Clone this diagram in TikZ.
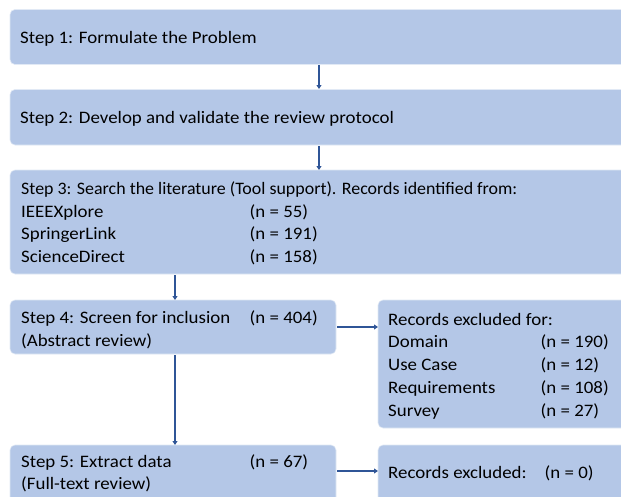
\documentclass[tikz,border=0pt]{standalone}
\usepackage{fontspec}
\setmainfont{Carlito}
\usetikzlibrary{arrows.meta}
\definecolor{boxfill}{HTML}{B4C7E7}
\definecolor{arrowblue}{HTML}{2F5597}
\newcommand{\stretchtxt}[1]{\scalebox{1.08}[1]{#1}}
\newcommand{\stretchtxtb}[1]{\scalebox{1.025}[1]{#1}}
\begin{document}
\begin{tikzpicture}[x=1pt,y=-1pt,
  boxstyle/.style={fill=boxfill,draw=white!60!boxfill,line width=0.6pt,rounded corners=5pt},
  txt/.style={anchor=base west,inner sep=0pt,font=\fontsize{17.5}{21}\selectfont},
  arr/.style={draw=arrowblue,line width=1.5pt,-{Triangle[length=4pt,width=5pt]}}]
\useasboundingbox (0,0) rectangle (621,496);
\begin{scope}
\clip (0,0) rectangle (621,496);
% boxes
\path[boxstyle] (10,9.5) rectangle (640,64.5);
\path[boxstyle] (10,89.5) rectangle (640,145);
\path[boxstyle] (10,170) rectangle (640,274);
\path[boxstyle] (10,300) rectangle (336,354);
\path[boxstyle] (10,445) rectangle (336,520);
\path[boxstyle] (378,300) rectangle (640,428);
\path[boxstyle] (378,445) rectangle (640,520);
\end{scope}
% anchor coordinates
\coordinate (b1s) at (319,65);  \coordinate (b2n) at (319,89);
\coordinate (b2s) at (319,146); \coordinate (b3n) at (319,170);
\coordinate (b3s) at (175,275); \coordinate (b4n) at (175,300);
\coordinate (b4s) at (175,355); \coordinate (b5n) at (175,445);
\coordinate (b4e) at (337,327); \coordinate (rAw) at (378,327);
\coordinate (b5e) at (337,471); \coordinate (rBw) at (378,471);
\draw[arr] (b1s) -- (b2n);
\draw[arr] (b2s) -- (b3n);
\draw[arr] (b3s) -- (b4n);
\draw[arr] (b4s) -- (b5n);
\draw[arr] (b4e) -- (rAw);
\draw[arr] (b5e) -- (rBw);
% texts
\node[txt] (t1) at (20,43) {\stretchtxt{Step 1: Formulate the Problem}};
\node[txt] (t2) at (20,123) {\stretchtxt{Step 2: Develop and validate the review protocol}};
\node[txt] (t3) at (21,194) {\stretchtxtb{Step 3: Search the literature (Tool support). Records identified from:}};
\node[txt] (t3a) at (21,217) {\stretchtxt{IEEEXplore}};
\node[txt] (t3an) at (249.5,217) {\stretchtxt{(n = 55)}};
\node[txt] (t3b) at (21,239) {\stretchtxt{SpringerLink}};
\node[txt] (t3bn) at (249.5,239) {\stretchtxt{(n = 191)}};
\node[txt] (t3c) at (21,262) {\stretchtxt{ScienceDirect}};
\node[txt] (t3cn) at (249.5,262) {\stretchtxt{(n = 158)}};
\node[txt] (t4) at (21,323) {\stretchtxt{Step 4: Screen for inclusion}};
\node[txt] (t4n) at (249.5,323) {\stretchtxt{(n = 404)}};
\node[txt] (t4b) at (21,346) {\stretchtxt{(Abstract review)}};
\node[txt] (t5) at (21,467) {\stretchtxt{Step 5: Extract data}};
\node[txt] (t5n) at (249.5,467) {\stretchtxt{(n = 67)}};
\node[txt] (t5b) at (21,489) {\stretchtxt{(Full-text review)}};
\node[txt] (ra) at (388,325) {\stretchtxt{Records excluded for:}};
\node[txt] (ra1) at (388,347) {\stretchtxt{Domain}};
\node[txt] (ra1n) at (540.5,347) {\stretchtxt{(n = 190)}};
\node[txt] (ra2) at (388,370) {\stretchtxt{Use Case}};
\node[txt] (ra2n) at (540.5,370) {\stretchtxt{(n = 12)}};
\node[txt] (ra3) at (388,393) {\stretchtxt{Requirements}};
\node[txt] (ra3n) at (540.5,393) {\stretchtxt{(n = 108)}};
\node[txt] (ra4) at (388,416) {\stretchtxt{Survey}};
\node[txt] (ra4n) at (540.5,416) {\stretchtxt{(n = 27)}};
\node[txt] (rb) at (388,478) {\stretchtxt{Records excluded:}};
\node[txt] (rbn) at (544.5,478) {\stretchtxt{(n = 0)}};
\end{tikzpicture}
\end{document}
